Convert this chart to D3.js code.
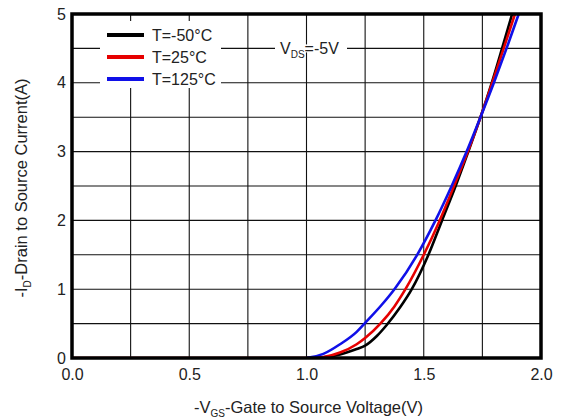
<!DOCTYPE html>
<html lang="en">
<meta charset="utf-8">
<script src="https://d3js.org/d3.v7.min.js"></script>
<style>
  body { margin: 0; background: #fff; }
  text { font-family: "Liberation Sans", Arial, sans-serif; fill: #222; }
</style>
<body>
<div id="my_dataviz"></div>
<script>
// -V_GS (V) and -I_D (A)
var vBlack = [1.0, 1.072, 1.143, 1.214, 1.25, 1.3, 1.342, 1.4, 1.449, 1.52, 1.578, 1.636, 1.69, 1.742, 1.79, 1.834, 1.877];
var iBlack = [0.0, 0.01, 0.05, 0.13, 0.18, 0.32, 0.48, 0.74, 1.0, 1.5, 2.0, 2.5, 3.0, 3.5, 4.0, 4.5, 5.0];

var vRed = [0.0, 0.5, 1.0, 1.072, 1.143, 1.214, 1.25, 1.315, 1.375, 1.422, 1.5, 1.568, 1.629, 1.688, 1.742, 1.792, 1.841, 1.889];
var iRed = [0.0, 0.0, 0.0, 0.015, 0.08, 0.2, 0.29, 0.5, 0.75, 1.0, 1.5, 2.0, 2.5, 3.0, 3.5, 4.0, 4.5, 5.0];

var vBlue = [1.0, 1.072, 1.143, 1.214, 1.25, 1.32, 1.375, 1.472, 1.55, 1.619, 1.683, 1.742, 1.799, 1.853, 1.905];
var iBlue = [0.0, 0.06, 0.2, 0.38, 0.51, 0.77, 1.0, 1.5, 2.0, 2.5, 3.0, 3.5, 4.0, 4.5, 5.0];

var legendLabels = ["T=-50\u00b0C", "T=25\u00b0C", "T=125\u00b0C"];
var xTicks = [0, 0.5, 1.0, 1.5, 2.0];
var yTicks = [0, 1, 2, 3, 4, 5];

var margin = {top: 14, right: 22, bottom: 61, left: 72},
    width = 563 - margin.left - margin.right,
    height = 419 - margin.top - margin.bottom;

var svg = d3.select("#my_dataviz")
  .append("svg")
    .attr("width", 563)
    .attr("height", 419)
  .append("g")
    .attr("transform", "translate(" + margin.left + "," + margin.top + ")");

var x = d3.scaleLinear().domain([0, 2]).range([0, width]);
var y = d3.scaleLinear().domain([0, 5]).range([height, 0]);

// grid
svg.append("g")
  .selectAll("line")
  .data(d3.range(1, 8).map(function(i) { return i * 0.25; }))
  .enter().append("line")
    .attr("x1", function(d) { return x(d); })
    .attr("x2", function(d) { return x(d); })
    .attr("y1", 0).attr("y2", height)
    .attr("stroke", "#111").attr("stroke-width", 1.1);
svg.append("g")
  .selectAll("line")
  .data(d3.range(1, 10).map(function(i) { return i * 0.5; }))
  .enter().append("line")
    .attr("y1", function(d) { return y(d); })
    .attr("y2", function(d) { return y(d); })
    .attr("x1", 0).attr("x2", width)
    .attr("stroke", "#111").attr("stroke-width", 1.1);

// tick labels
var xAxis = svg.append("g")
    .attr("transform", "translate(0," + height + ")")
    .call(d3.axisBottom(x).tickValues(xTicks).tickFormat(d3.format(".1f")).tickSize(0).tickPadding(11));
var yAxis = svg.append("g")
    .call(d3.axisLeft(y).tickValues(yTicks).tickFormat(d3.format("d")).tickSize(0).tickPadding(6));
[xAxis, yAxis].forEach(function(a) {
  a.select(".domain").remove();
  a.selectAll("text").style("font-size", "16px").style("font-family", "Liberation Sans, Arial, sans-serif").attr("fill", "#222");
});

// curves
svg.append("clipPath").attr("id", "clip")
  .append("rect").attr("x", 0).attr("y", 0).attr("width", width).attr("height", height);

var line = d3.line()
    .x(function(d) { return x(d[0]); })
    .y(function(d) { return y(d[1]); })
    .curve(d3.curveMonotoneX);

var series = [
  {v: vBlack, i: iBlack, color: "#000000"},
  {v: vRed, i: iRed, color: "#e60000"},
  {v: vBlue, i: iBlue, color: "#1010e8"}
];
series.forEach(function(s) {
  svg.append("path")
    .datum(d3.zip(s.v, s.i))
    .attr("clip-path", "url(#clip)")
    .attr("fill", "none")
    .attr("stroke", s.color)
    .attr("stroke-width", 2.6)
    .attr("d", line);
});

// frame
svg.append("rect")
  .attr("x", 0).attr("y", 0).attr("width", width).attr("height", height)
  .attr("fill", "none").attr("stroke", "#000").attr("stroke-width", 3.5);

// legend
svg.append("rect")
  .attr("x", 28).attr("y", 7).attr("width", 121).attr("height", 67)
  .attr("fill", "#fff");
var legend = svg.selectAll(".leg")
  .data(legendLabels)
  .enter().append("g")
    .attr("transform", function(d, k) { return "translate(35," + (21 + k * 22) + ")"; });
legend.append("line")
  .attr("x1", 0).attr("x2", 37)
  .attr("stroke", function(d, k) { return series[k].color; })
  .attr("stroke-width", 4);
legend.append("text")
  .attr("x", 45).attr("y", 6)
  .style("font-size", "16px")
  .text(function(d) { return d; });

// V_DS annotation
svg.append("rect")
  .attr("x", 203).attr("y", y(4.5) - 4).attr("width", 72).attr("height", 8)
  .attr("fill", "#fff");
var vds = svg.append("text")
  .attr("x", 208).attr("y", y(4.5) + 6)
  .style("font-size", "16px");
vds.append("tspan").text("V");
vds.append("tspan").attr("dy", 4).style("font-size", "10px").text("DS");
vds.append("tspan").attr("dy", -4).text("=-5V");

// axis titles
var xt = svg.append("text")
  .attr("x", width / 2 + 2).attr("y", height + 55)
  .attr("text-anchor", "middle")
  .style("font-size", "16.5px");
xt.append("tspan").text("-V");
xt.append("tspan").attr("dy", 4).style("font-size", "10px").text("GS");
xt.append("tspan").attr("dy", -4).text("-Gate to Source Voltage(V)");

var yt = svg.append("text")
  .attr("transform", "translate(-45," + (height / 2 + 2) + ") rotate(-90)")
  .attr("text-anchor", "middle")
  .style("font-size", "16.5px");
yt.append("tspan").text("-I");
yt.append("tspan").attr("dy", 4).style("font-size", "10px").text("D");
yt.append("tspan").attr("dy", -4).text("-Drain to Source Current(A)");
</script>
</body>
</html>
